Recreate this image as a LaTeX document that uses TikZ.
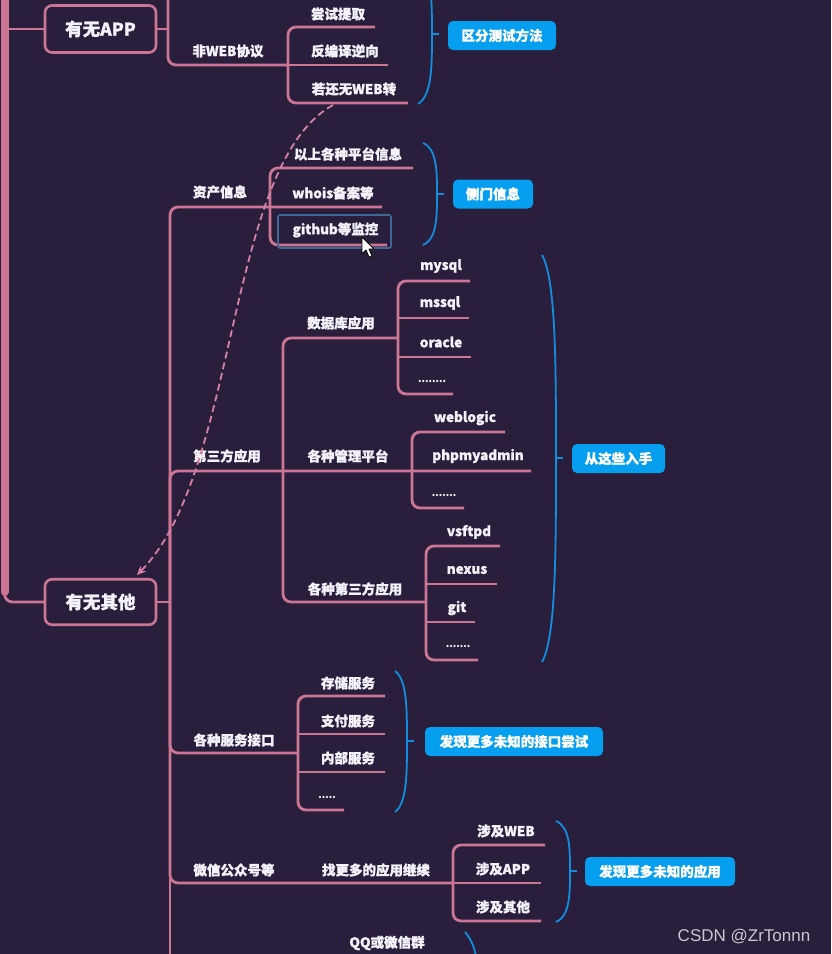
\documentclass[tikz,border=0pt]{standalone}
\usepackage{fontspec}
\setmainfont{Noto Sans CJK SC}[BoldFeatures={FakeBold=1.2}]
\newfontfamily\wmfont{Liberation Sans}
\usetikzlibrary{arrows.meta}
\definecolor{bg}{RGB}{41,31,61}
\definecolor{pk}{RGB}{204,118,148}
\definecolor{bl}{RGB}{18,142,222}
\definecolor{lb}{RGB}{6,158,238}
\definecolor{tx}{RGB}{244,242,248}
\definecolor{sel}{RGB}{62,104,152}
\definecolor{dsh}{RGB}{214,128,168}
\definecolor{wm}{RGB}{200,200,206}
\tikzset{
  ln/.style={draw=pk, line width=2.8pt},
  rc/.style={ln, rounded corners=8pt},
  lbl/.style={text=tx, font=\bfseries\fontsize{13.5}{16}\selectfont, inner sep=0pt},
  dots/.style={text=tx, font=\bfseries\fontsize{10}{12}\selectfont, inner sep=0pt},
  bigbox/.style={draw=pk, line width=2.6pt, rounded corners=7pt, fill=bg, text=tx,
    font=\bfseries\fontsize{17.5}{20}\selectfont, minimum width=111pt, minimum height=47pt, inner sep=0pt},
  tag/.style={fill=lb, rounded corners=5pt, text=white, font=\bfseries\fontsize{13.5}{16}\selectfont,
    inner sep=0pt, minimum height=29pt},
  brk/.style={draw=bl, line width=1.8pt},
  dashline/.style={draw=dsh, line width=1.8pt, dash pattern=on 7pt off 4pt, -{Stealth[length=9pt,width=8pt]}},
}
\newcommand{\mybrace}[6]{%
  \pgfmathsetmacro\myha{#5-#4}%
  \pgfmathsetmacro\myhb{#6-#5}%
  \draw[brk] (#2,#4) .. controls (#3,{#4+0.12*\myha}) and (#3,{#5-0.45*\myha}) .. (#3,#5)
     .. controls (#3,{#5+0.45*\myhb}) and (#3,{#6-0.12*\myhb}) .. (#2,#6);
  \draw[brk] (#3,#5) -- ++(7,0) coordinate (#1);
}
\begin{document}
\begin{tikzpicture}[x=1pt,y=-1pt]
\useasboundingbox (0,0) rectangle (831,954);
\clip (0,0) rectangle (831,954);
\fill[bg] (0,0) rectangle (831,954);

% ---------- spine ----------
\draw[draw=pk, line width=8pt, line cap=round] (4.5,-20) -- (4.5,592);
\draw[rc] (4.5,580) -- (4.5,602) -- (46,602);
\draw[rc] (6,29) -- (46,29);

% ---------- 有无APP ----------
\node[bigbox] (app) at (100.5,29) {有无APP};
\draw[ln] (app.east) -- (168,29);
\draw[rc] (168,-20) -- (168,65) -- (288,65);
\node[lbl] (feiweb) at (228,51) {非WEB协议};
\draw[rc] (375,27) -- (288,27) -- (288,103) -- (408,103);
\draw[ln] (288,65) -- (388,65);
\node[lbl] (tq) at (338,14) {尝试提取};
\node[lbl] (fby) at (345,51) {反编译逆向};
\node[lbl] (rh) at (354,89) {若还无WEB转};
\coordinate (dstart) at (333,105);
\mybrace{b1}{418}{432}{-36}{34}{104}
\node[tag, minimum width=108pt] (t1) at (502,35.5) {区分测试方法};

% ---------- 有无其他 ----------
\node[bigbox, minimum height=45.5pt] (qita) at (100.5,602) {有无其他};
\draw[ln] (qita.east) -- (170,602);
\coordinate (dend) at (137,575);

% 资产信息
\draw[rc] (170,602) -- (170,207) -- (382,207);
\node[lbl] (zc) at (220,192) {资产信息};
\draw[rc] (413,168) -- (270,168) -- (270,245) -- (387,245);
\node[lbl] (ysgz) at (348,154) {以上各种平台信息};
\node[lbl] (whois) at (333,193) {whois备案等};
\draw[draw=sel, line width=1.6pt, rounded corners=2pt] (278,215) rectangle (391,248);
\node[lbl] (gh) at (335.5,230) {github等监控};
\mybrace{b2}{423}{437}{143}{194}{245}
\node[tag, minimum width=80pt] (t2) at (493,194) {侧门信息};

% 第三方应用
\draw[rc] (170,602) -- (170,471) -- (531,471);
\node[lbl] (dsf) at (227,456) {第三方应用};
\draw[rc] (283,471) -- (283,338) -- (398,338);
\draw[rc] (283,471) -- (283,602) -- (426,602);
\node[lbl] (sjk) at (341,323) {数据库应用};
\draw[rc] (470,281) -- (398,281) -- (398,394) -- (453,394);
\draw[ln] (398,318) -- (469,318);
\draw[ln] (398,357) -- (471,357);
\node[lbl] (mysql) at (441,266) {mysql};
\node[lbl] (mssql) at (440,303) {mssql};
\node[lbl] (oracle) at (441,342) {oracle};
\node[dots] (d1) at (432,381) {........};
\node[lbl] (glpt) at (348,456) {各种管理平台};
\draw[rc] (505,432) -- (412,432) -- (412,508) -- (464,508);
\node[lbl] (wl) at (465,418) {weblogic};
\node[lbl] (pma) at (478,456) {phpmyadmin};
\node[dots] (d2) at (444,495) {.......};
\node[lbl] (gzdsf) at (355,589) {各种第三方应用};
\draw[rc] (500,546) -- (426,546) -- (426,660) -- (478,660);
\draw[ln] (426,584) -- (497,584);
\draw[ln] (426,622) -- (475,622);
\node[lbl] (vs) at (469,532) {vsftpd};
\node[lbl] (nx) at (467,570) {nexus};
\node[lbl] (git) at (457,608) {git};
\node[dots] (d3) at (458,646) {.......};
\mybrace{b3}{542}{556}{255}{458}{662}
\node[tag, minimum width=93pt] (t3) at (618.5,458.5) {从这些入手};

% 各种服务接口
\draw[rc] (170,602) -- (170,753) -- (298,753);
\node[lbl] (fwjk) at (234,740) {各种服务接口};
\draw[rc] (385,696) -- (298,696) -- (298,810) -- (344,810);
\draw[ln] (298,734) -- (385,734);
\draw[ln] (298,772) -- (385,772);
\node[lbl] (cc) at (348,683) {存储服务};
\node[lbl] (zf) at (348,721) {支付服务};
\node[lbl] (nb) at (348,758) {内部服务};
\node[dots] (d4) at (327,797) {.....};
\mybrace{b4}{395}{407}{671}{741}{812}
\node[tag, minimum width=178pt] (t4) at (514,741.5) {发现更多未知的接口尝试};

% 微信公众号等
\draw[rc] (170,602) -- (170,883) -- (453,883);
\node[lbl] (wx) at (234,870) {微信公众号等};
\node[lbl] (zgd) at (376,870) {找更多的应用继续};
\draw[rc] (545,845) -- (453,845) -- (453,921) -- (541,921);
\draw[ln] (453,883) -- (541,883);
\node[lbl] (sjweb) at (506,831) {涉及WEB};
\node[lbl] (sjapp) at (503,869) {涉及APP};
\node[lbl] (sjqt) at (503,907) {涉及其他};
\mybrace{b5}{556}{570}{821}{871}{922}
\node[tag, minimum width=150pt] (t5) at (660,871.5) {发现更多未知的应用};

% QQ或微信群
\draw[rc] (170,602) -- (170,980);
\node[lbl] (qq) at (387,943) {QQ或微信群};
\draw[brk] (465,932) .. controls (476,945) and (478,960) .. (478,990);

% dashed link
\draw[dashline] (dstart) .. controls (225,165) and (240,470) .. (dend);

% cursor
\draw[fill=white, draw=black, line width=0.8pt, line join=round]
  (362,237) -- (362,254) -- (366,250) -- (369,257) -- (372,256) -- (369,249) -- (374,249) -- cycle;

% watermark
\node[text=wm, font=\wmfont\fontsize{17}{20}\selectfont, inner sep=0pt] (csdn) at (744,937) {CSDN @ZrTonnn};
\end{tikzpicture}
\end{document}
